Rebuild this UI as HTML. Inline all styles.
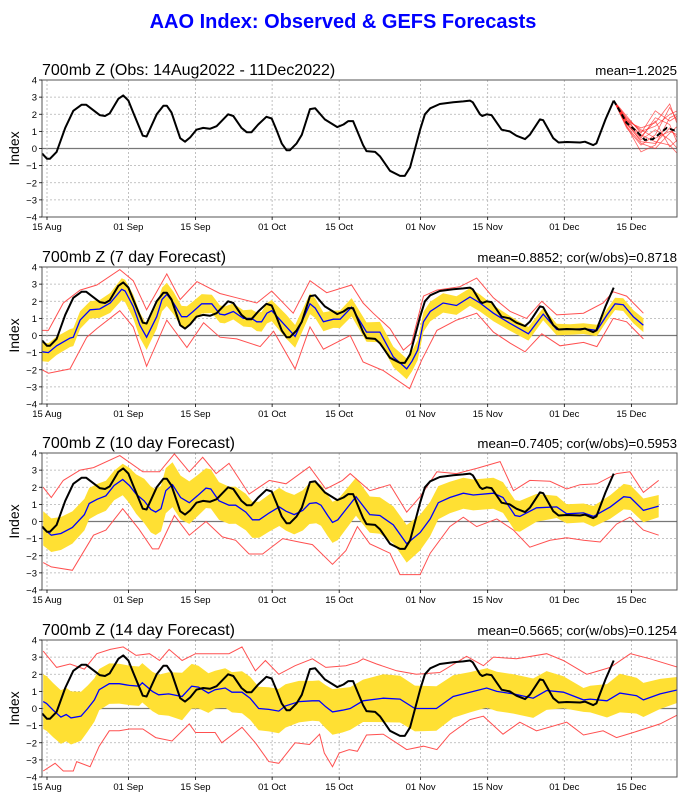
<!DOCTYPE html>
<html><head><meta charset="utf-8">
<style>
html,body{margin:0;padding:0;background:#fff;}
svg{display:block;font-family:"Liberation Sans","DejaVu Sans",sans-serif;}
</style></head>
<body>
<svg id="chart" width="686" height="800" viewBox="0 0 686 800">
<text x="343" y="28" text-anchor="middle" font-size="20" font-weight="bold" fill="#0000ff">AAO Index: Observed &amp; GEFS Forecasts</text>
</svg>
<script>
// ---------- data ----------
const tickDays = [0, 17, 31, 47, 61, 78, 92, 108, 122];
const tickLabels = ["15 Aug","01 Sep","15 Sep","01 Oct","15 Oct","01 Nov","15 Nov","01 Dec","15 Dec"];
const yTicks = [4,3,2,1,0,-1,-2,-3,-4];
const panelTitles = ["700mb Z (Obs: 14Aug2022 - 11Dec2022)","700mb Z (7 day Forecast)","700mb Z (10 day Forecast)","700mb Z (14 day Forecast)"];
const panelStats = ["mean=1.2025","mean=0.8852; cor(w/obs)=0.8718","mean=0.7405; cor(w/obs)=0.5953","mean=0.5665; cor(w/obs)=0.1254"];

const obs = [[-1,-0.3],[0,-0.6],[0.6,-0.6],[2,-0.2],[3.8,1.2],[5.5,2.2],[7.2,2.55],[8.2,2.55],[11,1.95],[12.1,1.9],[13.1,2.05],[14.9,2.9],[15.9,3.1],[17,2.8],[18,2.1],[20,0.75],[20.8,0.7],[22.9,2.0],[24.3,2.5],[25,2.5],[26,2.1],[27.8,0.6],[28.8,0.4],[29.9,0.65],[31.2,1.1],[32.6,1.2],[34,1.15],[35.4,1.3],[37.8,2.0],[38.9,1.9],[40.6,1.2],[41.7,0.95],[42.7,0.95],[44.1,1.4],[45.8,1.85],[46.9,1.75],[47.9,1.1],[49,0.3],[50,-0.1],[50.7,-0.1],[52.1,0.3],[53.2,0.8],[54.9,2.3],[56,2.35],[58,1.7],[60.6,1.25],[61.9,1.4],[62.9,1.6],[63.9,1.6],[66,0.2],[66.7,-0.15],[68.5,-0.2],[69.5,-0.45],[71.6,-1.3],[73.7,-1.6],[74.7,-1.6],[75.8,-1.1],[77.9,1.1],[78.9,2.0],[80,2.35],[82,2.6],[84.8,2.7],[86.9,2.75],[88.3,2.8],[88.9,2.7],[90.4,2.0],[90.9,1.9],[91.8,2.0],[92.8,1.95],[94.9,1.1],[96.6,1.0],[98,0.75],[99.8,0.55],[100.8,0.8],[102.9,1.7],[103.6,1.65],[105.7,0.6],[106.8,0.35],[108.5,0.38],[111.3,0.35],[112.3,0.4],[114,0.2],[114.7,0.3],[116.6,1.7],[118.3,2.8]];

const ensMean = [[118.3,2.8],[121,1.5],[123.1,1.0],[124.8,0.5],[126.5,0.55],[129.4,1.2],[131.6,1.0]];
const ensDays = [118.3,121,124,127,130,131.6];
const ensMembers = [
 [2.8,1.8,1.0,1.3,2.0,2.2],[2.8,1.3,0.3,0.0,0.9,1.3],[2.8,1.5,0.6,1.8,1.4,0.3],[2.8,1.6,0.8,0.4,0.2,-0.3],
 [2.8,1.2,0.2,0.8,2.4,1.6],[2.8,1.7,1.1,0.6,1.0,0.8],[2.8,1.4,0.5,1.1,0.5,0.0],[2.8,1.9,0.9,2.2,1.6,1.9],
 [2.8,1.5,0.4,0.3,1.2,0.6],[2.8,1.6,1.2,1.5,2.6,1.4],[2.8,1.3,-0.2,0.2,1.8,2.0],[2.8,1.7,0.7,1.6,0.1,0.5]];

const mean7 = [[-1,-0.95],[0.3,-1.0],[2,-0.6],[4.8,-0.15],[5.5,-0.1],[6.9,0.9],[9,1.5],[11,1.55],[13.2,1.9],[15.6,2.7],[16.3,2.6],[18,1.7],[19.4,0.6],[20.8,-0.1],[22.9,1.1],[24,2.1],[25,2.4],[26.4,1.9],[28.1,1.1],[29.2,1.1],[30.5,1.4],[32.3,1.85],[34.4,1.85],[36.1,1.25],[37.1,1.2],[38.9,1.4],[41,1.0],[42.7,1.0],[43.8,0.8],[44.8,0.8],[45.9,1.3],[46.9,1.45],[50,0.5],[51.8,-0.05],[53.2,0.8],[54.9,1.85],[56,1.6],[57.7,0.8],[59.8,0.95],[61.2,0.95],[63.6,1.65],[66.7,0.2],[69.5,0.2],[72.3,-1.25],[75.1,-1.95],[76.2,-1.5],[77.4,-0.85],[78.6,0.8],[80,1.4],[82.7,1.9],[85.5,1.75],[88.3,2.25],[90.4,1.9],[93.2,1.3],[96.7,0.7],[100.5,0.1],[103.6,1.25],[106.4,0.35],[109.2,0.35],[112,0.4],[114.8,0.3],[116.9,1.2],[118.6,1.85],[120.3,1.8],[122.4,1.1],[124.5,0.6]];
const band7 = [[-1,0.55],[10,0.5],[20,0.75],[30,0.6],[40,0.45],[50,0.7],[60,0.5],[70,0.6],[75,0.6],[85,0.55],[100,0.4],[110,0.3],[124.5,0.4]];
const hi7 = [[-1,0.3],[0.3,0.3],[3.4,1.9],[6.9,2.65],[10.4,2.95],[15.2,3.85],[18,3.2],[20.8,1.5],[25,3.6],[27.8,2.1],[31.3,3.15],[36.1,2.45],[39.6,2.2],[43.8,1.9],[46.9,2.6],[51.4,1.3],[54.9,3.2],[58.4,2.5],[63.6,2.95],[66,1.9],[68.1,1.3],[71.6,0.4],[74.4,-0.85],[76.1,-0.45],[78.6,2.3],[81.4,2.65],[86.2,2.85],[89.7,3.35],[93.2,2.2],[96.7,1.4],[100.1,1.0],[103.3,2.0],[106.4,1.2],[112,1.3],[116.1,1.9],[118.2,2.55],[121,2.3],[124.5,1.3]];
const lo7 = [[-1,-2.0],[0.3,-2.2],[4.8,-1.95],[8.3,-0.1],[10.4,0.4],[15.2,1.45],[18,0.5],[20.8,-1.8],[25,0.9],[29.2,-0.7],[32.7,0.75],[36.1,-0.1],[39.6,-0.2],[44.5,-0.65],[47.3,0.25],[51.8,-1.95],[54.9,0.5],[57.7,-0.8],[63.3,0.0],[66,-1.55],[70.2,-2.05],[75.7,-3.1],[78.2,-1.45],[81.4,0.3],[85.5,0.9],[89.7,1.3],[93.2,0.2],[96.7,-0.45],[99.8,-0.95],[103.3,0.1],[107.1,-0.6],[112,-0.4],[114.8,-0.65],[118.2,1.0],[121,0.8],[124.5,-0.2]];

const mean10 = [[-0.8,-0.4],[0.9,-0.8],[2.9,-0.7],[5.3,-0.35],[7.8,0.4],[8.8,1.05],[10.5,1.3],[12.3,1.5],[14,2.1],[15.8,2.45],[17.2,2.1],[18.6,1.6],[20.3,1.2],[21.7,0.7],[22.7,0.55],[23.8,0.75],[24.8,1.8],[26.2,2.15],[27.9,1.4],[29.7,1.1],[31.4,1.5],[33.2,1.95],[34.2,1.9],[35.9,1.2],[38,0.95],[39.4,0.95],[41.5,0.55],[42.9,0.1],[44.3,0.1],[46.4,0.5],[48.5,0.85],[49.9,0.6],[51.6,0.4],[53.4,0.65],[54.8,1.05],[56.2,1.1],[57.2,0.95],[58.6,0.35],[59.6,-0.05],[60.7,0.1],[62.4,0.7],[64.5,1.45],[67.4,0.4],[69.5,0.35],[72.3,-0.2],[75.1,-1.3],[77.9,-0.65],[80,0.15],[81.7,1.1],[84.1,1.4],[86.9,1.65],[89,1.55],[93.2,1.65],[95.2,1.4],[97.7,0.35],[98.7,0.3],[102.2,0.8],[106.4,0.85],[108.5,0.45],[112,0.5],[114.1,0.3],[117.6,0.85],[120.4,1.45],[121.8,1.4],[124.5,0.65],[127.7,0.9]];
const band10 = [[-0.8,1.0],[15,0.85],[21,1.35],[27,1.3],[36,1.1],[44,1.05],[55,1.2],[60,1.2],[68,1.05],[75,1.1],[85,0.9],[95,0.9],[100,0.9],[110,0.5],[120,0.75],[127.7,0.65]];
const hi10 = [[-0.8,2.0],[0.9,1.4],[3.4,2.4],[6.9,3.0],[9.7,3.15],[15.2,3.85],[20,2.9],[23.5,2.9],[26.6,3.95],[29.7,2.9],[32.5,3.75],[35.3,2.8],[38,3.4],[42.2,1.6],[46.4,2.4],[49.9,2.2],[54.8,3.2],[58.2,1.9],[61.7,2.4],[63.3,2.8],[67.4,1.8],[71.6,2.15],[75.1,0.55],[77.9,1.45],[81.4,2.9],[85.5,2.8],[89.7,3.1],[94.6,3.5],[97.4,1.8],[100.8,2.4],[105,2.35],[108.5,1.9],[111.3,2.15],[114.8,2.2],[118.9,2.8],[121.7,2.9],[124.5,1.7],[127.7,2.4]];
const lo10 = [[-0.8,-2.4],[0.9,-2.65],[5.3,-2.85],[9.7,-0.8],[12.3,-0.5],[15.8,0.75],[19.2,-0.45],[22,-1.6],[23.3,-1.6],[26.6,0.35],[29.7,-0.8],[33.2,0.0],[36.6,-0.9],[39.4,-1.1],[42.2,-1.9],[45,-1.9],[49.2,-1.0],[52.6,-1.2],[55.4,-1.35],[59.6,-2.5],[62.4,-1.7],[64.8,-0.3],[67.4,-1.3],[71.6,-1.85],[73.7,-3.1],[77.9,-3.1],[80,-1.85],[84.1,-0.3],[86.9,0.25],[89.7,-0.3],[93.9,0.15],[97.4,-0.5],[100.8,-1.5],[105,-1.1],[108.5,-0.95],[112,-1.1],[115.5,-1.2],[118.9,-0.15],[121.7,0.25],[124.5,-0.5],[127.7,-0.8]];

const mean14 = [[-0.8,0.4],[-0.1,0.3],[1.3,-0.1],[2.9,-0.5],[4,-0.35],[5,-0.55],[7.1,-0.45],[8.5,0.0],[9.9,0.5],[10.9,1.1],[13,1.45],[15.1,1.45],[17.2,1.35],[19.2,1.3],[19.9,1.5],[22,1.0],[23.3,0.8],[25.4,0.85],[28.2,0.7],[30.2,1.3],[31.6,1.25],[33.7,0.9],[35.1,1.1],[37.2,1.2],[38.6,0.95],[40.7,0.95],[42.4,0.6],[44.2,0.0],[46.3,-0.05],[48.4,-0.15],[49.8,0.15],[52.6,0.4],[55.4,0.45],[56.8,0.45],[58.2,0.1],[59.6,-0.2],[61.7,-0.1],[63.3,0.0],[66,0.45],[70.2,0.6],[73.7,0.55],[76.8,0.0],[81.3,0.0],[84.8,0.7],[88.3,0.95],[91.8,1.2],[93.9,1.0],[97.4,0.85],[101.5,0.6],[104.3,1.05],[107.8,0.95],[112,0.5],[113.4,0.55],[116.9,0.45],[119.6,0.9],[123.1,0.75],[124.5,0.5],[128,0.85],[131.8,1.1]];
const band14 = [[-0.8,1.6],[5,1.55],[11,1.2],[17,1.15],[23,1.15],[28,1.4],[35,1.1],[42,1.25],[48,1.3],[56,1.15],[60,1.35],[65,1.2],[70,1.4],[81,1.3],[90,1.15],[100,1.15],[104,1.15],[112,0.7],[120,1.15],[131.8,0.75]];
const hi14 = [[-0.8,3.35],[2,2.4],[4.8,2.6],[7.8,2.3],[10.4,3.2],[13.2,3.45],[15.9,3.6],[18.6,3.1],[21.4,3.2],[23.5,2.8],[25.5,3.45],[28.2,2.8],[31,3.2],[35.1,3.2],[38,3.2],[40.7,3.6],[43.5,2.2],[45.6,2.8],[48.4,2.0],[51.8,2.5],[55.4,2.9],[58.2,2.4],[62.4,2.5],[64.8,2.7],[66,2.9],[68.8,2.6],[73,2.2],[77.1,2.0],[82,2.1],[87.6,3.05],[91.1,2.5],[93.2,3.0],[98,2.9],[104.3,3.2],[107.8,2.8],[112.7,2.0],[117.6,2.4],[121.8,3.2],[125.9,2.9],[131.8,2.4]];
const lo14 = [[-0.8,-3.65],[1.7,-3.2],[3.4,-3.65],[5.5,-3.65],[6.2,-3.1],[9,-3.4],[10.9,-2.2],[13,-1.3],[15.1,-1.3],[17.2,-1.2],[20,-1.2],[22.7,-1.7],[26.1,-1.9],[29.7,-0.9],[31,-1.4],[35.1,-1.4],[36.5,-2.0],[40.7,-1.1],[43.5,-2.0],[46.3,-3.1],[48.4,-3.2],[51.8,-2.0],[54.8,-2.1],[56.9,-1.5],[57.9,-2.6],[59.6,-3.4],[61,-2.6],[63.1,-2.4],[64.8,-2.5],[66.7,-1.55],[70.2,-1.5],[75.1,-2.4],[78.6,-2.2],[81.4,-2.4],[84.1,-1.5],[88.3,-0.65],[91.1,-0.45],[95.2,-1.5],[98.7,-0.8],[102.2,-1.3],[108.5,-0.8],[112,-1.55],[116.1,-1.3],[118.9,-1.7],[122.4,-1.4],[128,-0.9],[131.8,-0.35]];

// ---------- layout ----------
const svg = document.getElementById('chart');
const NS = 'http://www.w3.org/2000/svg';
const L = 42, R = 677, H = 137;
const tops = [80, 267, 453, 640];
const xS = d => 47 + d * 4.79;
function mk(tag, attrs, parent){ const e=document.createElementNS(NS,tag); for(const k in attrs) e.setAttribute(k,attrs[k]); (parent||svg).appendChild(e); return e; }
function interp(arr, d){ if(d<=arr[0][0]) return arr[0][1]; for(let i=1;i<arr.length;i++){ if(d<=arr[i][0]){ const a=arr[i-1],b=arr[i]; return a[1]+(b[1]-a[1])*(d-a[0])/(b[0]-a[0]); } } return arr[arr.length-1][1]; }
function path(pts, yS){ return pts.map((p,i)=>(i?'L':'M')+xS(p[0]).toFixed(1)+','+yS(p[1]).toFixed(1)).join(' '); }

tops.forEach((top, pi) => {
  const yS = v => top + (4 - v) * H / 8;
  const g = mk('g', {});
  
  
  const clipId = 'clip'+pi;
  const cp = mk('clipPath', {id: clipId}, g); mk('rect',{x:L,y:top,width:R-L,height:H},cp);
  yTicks.forEach(t => {
    if (t === 4 || t === -4) return;
    const ln = mk('line',{x1:L,x2:R,y1:yS(t),y2:yS(t),stroke: t===0?'#777':'#b0b0b0','stroke-width':t===0?1.3:0.8,'stroke-dasharray':t===0?'none':'2,2'}, g);
    
    
  });
  tickDays.forEach(d => {
    const ln = mk('line',{x1:xS(d),x2:xS(d),y1:top,y2:top+H,stroke:'#b0b0b0','stroke-width':0.8,'stroke-dasharray':'2,2'}, g);
    
    
  });
  const cg = mk('g', {'clip-path':'url(#'+clipId+')'}, g);
  if (pi === 0) {
    ensMembers.forEach(m => {
      const pts = ensDays.map((d,i)=>[d,m[i]]);
      const p = mk('path',{d:path(pts,yS),fill:'none',stroke:'#ff2020','stroke-width':0.8,'stroke-opacity':0.7}, cg);
      
      
    });
    const o = mk('path',{d:path(obs,yS),fill:'none',stroke:'#000','stroke-width':2,'stroke-linejoin':'round'}, cg);
    
    
    const em = mk('path',{d:path(ensMean,yS),fill:'none',stroke:'#000','stroke-width':2,'stroke-dasharray':'5,3'}, cg);
    
    
  } else {
    const mean = [mean7, mean10, mean14][pi-1];
    const band = [band7, band10, band14][pi-1];
    const hi = [hi7, hi10, hi14][pi-1];
    const lo = [lo7, lo10, lo14][pi-1];
    const up = mean.map(p=>[p[0], p[1]+interp(band,p[0])]);
    const dn = mean.map(p=>[p[0], p[1]-interp(band,p[0])]).reverse();
    const bd = path(up,yS) + ' ' + path(dn,yS).replace('M','L') + ' Z';
    const b = mk('path',{d:bd,fill:'#ffe033',stroke:'none'}, cg);
    
    
    const h = mk('path',{d:path(hi,yS),fill:'none',stroke:'#ff5050','stroke-width':1}, cg);
    
    
    const l = mk('path',{d:path(lo,yS),fill:'none',stroke:'#ff5050','stroke-width':1}, cg);
    
    
    const m = mk('path',{d:path(mean,yS),fill:'none',stroke:'#0000ff','stroke-width':1.3}, cg);
    
    
    const o = mk('path',{d:path(obs,yS),fill:'none',stroke:'#000','stroke-width':2,'stroke-linejoin':'round'}, cg);
    
    
  }
  const fr = mk('rect',{x:L,y:top,width:R-L,height:H,fill:'none',stroke:'#555','stroke-width':1}, g);
  
  
  yTicks.forEach(t => {
    mk('line',{x1:L-3,x2:L,y1:yS(t),y2:yS(t),stroke:'#000','stroke-width':0.8}, g);
    const tx = mk('text',{x:L-5,y:yS(t)+3.5,'text-anchor':'end','font-size':9.5,fill:'#000'}, g);
    tx.textContent = t < 0 ? '\u2212' + Math.abs(t) : String(t);
    
    
  });
  tickDays.forEach((d,i) => {
    mk('line',{x1:xS(d),x2:xS(d),y1:top+H,y2:top+H+3,stroke:'#000','stroke-width':0.8}, g);
    const tx = mk('text',{x:xS(d),y:top+H+13,'text-anchor':'middle','font-size':9.5,fill:'#000'}, g);
    tx.textContent = tickLabels[i];
    
    
  });
  const yl = mk('text',{x:0,y:0,'text-anchor':'middle','font-size':14,fill:'#000',transform:'translate(19,'+(top+H/2)+') rotate(-90)'}, g);
  yl.textContent = 'Index';
  
  
  const tt = mk('text',{x:L,y:top-5,'font-size':16,fill:'#000'}, g);
  tt.textContent = panelTitles[pi];
  
  
  const st = mk('text',{x:R,y:top-5,'text-anchor':'end','font-size':13.3,fill:'#000'}, g);
  st.textContent = panelStats[pi];
  
  
});
</script>
</body></html>
